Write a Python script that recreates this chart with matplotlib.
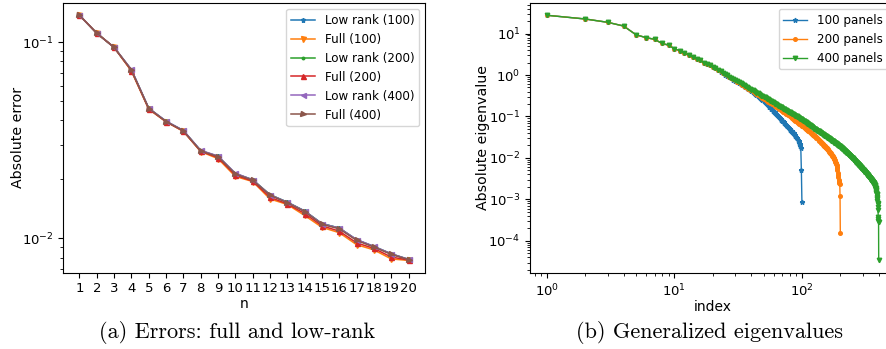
"""
Two-panel figure: (a) absolute error vs n for full / low-rank solves,
(b) absolute generalized eigenvalues for 100 / 200 / 400 panels.
Values are read off the reference picture.
"""

import matplotlib
matplotlib.use("Agg")
import matplotlib.pyplot as plt
import numpy as np

plt.rcParams["font.size"] = 9.5
plt.rcParams["axes.labelsize"] = 10
plt.rcParams["legend.fontsize"] = 8.6
plt.rcParams["axes.linewidth"] = 0.8

# ---------------------------------------------------------------------------
# (a) errors
# ---------------------------------------------------------------------------
N_VALUES = list(range(1, 21))

LOW_RANK_100 = [0.137, 0.111, 0.094, 0.0722, 0.0460, 0.0395, 0.0354, 0.0280, 0.0262, 0.0214,
                0.0199, 0.0167, 0.0153, 0.0138, 0.0119, 0.0113, 0.00985, 0.00910, 0.00835, 0.00782]
FULL_100 = [0.137, 0.111, 0.094, 0.0712, 0.0455, 0.0393, 0.0351, 0.0277, 0.0255, 0.0207,
            0.0195, 0.0159, 0.0149, 0.0131, 0.0114, 0.0107, 0.0093, 0.00875, 0.00787, 0.00773]
LOW_RANK_200 = [0.137, 0.111, 0.094, 0.0722, 0.0460, 0.0395, 0.0354, 0.0280, 0.0262, 0.0214,
                0.0199, 0.0167, 0.0153, 0.0138, 0.0119, 0.0113, 0.00985, 0.00910, 0.00835, 0.00782]
FULL_200 = [0.137, 0.111, 0.094, 0.0716, 0.0457, 0.0393, 0.0352, 0.0278, 0.0258, 0.0210,
            0.0196, 0.0162, 0.0150, 0.0134, 0.0116, 0.0109, 0.0095, 0.00890, 0.00805, 0.00776]
LOW_RANK_400 = [0.137, 0.111, 0.094, 0.0726, 0.0461, 0.0396, 0.0355, 0.0281, 0.0263, 0.0215,
                0.0199, 0.0167, 0.0153, 0.0138, 0.0119, 0.0113, 0.00988, 0.00912, 0.00836, 0.00783]
FULL_400 = [0.137, 0.111, 0.094, 0.0720, 0.0459, 0.0394, 0.0353, 0.0279, 0.0261, 0.0213,
            0.0198, 0.0166, 0.0152, 0.0137, 0.0118, 0.0112, 0.00978, 0.00905, 0.00830, 0.00780]

ERROR_SERIES = [
    ("Low rank (100)", LOW_RANK_100, "C0", "*"),
    ("Full (100)", FULL_100, "C1", "v"),
    ("Low rank (200)", LOW_RANK_200, "C2", "."),
    ("Full (200)", FULL_200, "C3", "^"),
    ("Low rank (400)", LOW_RANK_400, "C4", "<"),
    ("Full (400)", FULL_400, "C5", ">"),
]

# ---------------------------------------------------------------------------
# (b) eigenvalues, stored as log10|lambda|, index 1..N
# ---------------------------------------------------------------------------
EIG_HEAD_LOG10 = [1.44, 1.35, 1.27, 1.18, 0.97, 0.90, 0.86, 0.76, 0.72, 0.63,
                  0.59, 0.52, 0.48, 0.43, 0.38, 0.35, 0.30, 0.27, 0.23, 0.20]

EIG_100_TAIL_LOG10 = [
    0.16, 0.12, 0.08, 0.05, 0.01, -0.02, -0.05, -0.08, -0.11, -0.14,
    -0.16, -0.19, -0.22, -0.24, -0.27, -0.29, -0.32, -0.34, -0.36, -0.38,
    -0.41, -0.44, -0.46, -0.48, -0.51, -0.53, -0.56, -0.58, -0.60, -0.63,
    -0.66, -0.68, -0.71, -0.73, -0.76, -0.78, -0.81, -0.83, -0.86, -0.88,
    -0.90, -0.92, -0.95, -0.97, -0.99, -1.02, -1.04, -1.06, -1.08, -1.10,
    -1.12, -1.14, -1.16, -1.18, -1.20, -1.22, -1.24, -1.26, -1.28, -1.30,
    -1.32, -1.34, -1.36, -1.37, -1.39, -1.41, -1.43, -1.45, -1.47, -1.49,
    -1.51, -1.53, -1.56, -1.60, -1.63, -1.66, -1.72, -1.77, -2.30, -3.07,
]

EIG_200_TAIL_LOG10 = [
    0.16, 0.13, 0.09, 0.06, 0.02, -0.01, -0.04, -0.07, -0.10, -0.13,
    -0.16, -0.18, -0.21, -0.23, -0.25, -0.28, -0.30, -0.33, -0.35, -0.37,
    -0.39, -0.41, -0.43, -0.46, -0.47, -0.49, -0.51, -0.54, -0.55, -0.57,
    -0.58, -0.60, -0.62, -0.64, -0.65, -0.67, -0.68, -0.70, -0.71, -0.72,
    -0.74, -0.75, -0.76, -0.78, -0.80, -0.81, -0.82, -0.84, -0.85, -0.87,
    -0.88, -0.89, -0.90, -0.92, -0.93, -0.94, -0.95, -0.96, -0.97, -0.99,
    -1.00, -1.01, -1.03, -1.04, -1.05, -1.07, -1.08, -1.09, -1.10, -1.11,
    -1.12, -1.14, -1.15, -1.16, -1.17, -1.18, -1.19, -1.20, -1.21, -1.22,
    -1.23, -1.24, -1.25, -1.26, -1.27, -1.28, -1.29, -1.30, -1.31, -1.32,
    -1.33, -1.34, -1.35, -1.36, -1.37, -1.38, -1.39, -1.40, -1.41, -1.42,
    -1.43, -1.44, -1.44, -1.45, -1.46, -1.47, -1.48, -1.49, -1.50, -1.51,
    -1.52, -1.53, -1.54, -1.55, -1.56, -1.57, -1.58, -1.59, -1.60, -1.61,
    -1.62, -1.63, -1.64, -1.65, -1.66, -1.67, -1.68, -1.69, -1.70, -1.71,
    -1.71, -1.72, -1.73, -1.74, -1.75, -1.76, -1.77, -1.78, -1.79, -1.80,
    -1.81, -1.82, -1.83, -1.85, -1.86, -1.87, -1.88, -1.89, -1.90, -1.91,
    -1.93, -1.94, -1.95, -1.96, -1.97, -1.98, -1.99, -2.00, -2.02, -2.03,
    -2.05, -2.07, -2.09, -2.11, -2.13, -2.15, -2.18, -2.21, -2.25, -2.30,
    -2.36, -2.42, -2.47, -2.54, -2.56, -2.58, -2.60, -2.62, -2.92, -3.82,
]

EIG_400_TAIL_LOG10 = [
    0.16, 0.13, 0.09, 0.06, 0.02, -0.01, -0.04, -0.07, -0.09, -0.12,
    -0.15, -0.17, -0.20, -0.22, -0.24, -0.27, -0.29, -0.31, -0.33, -0.35,
    -0.37, -0.39, -0.41, -0.43, -0.44, -0.46, -0.48, -0.50, -0.51, -0.53,
    -0.54, -0.56, -0.57, -0.59, -0.60, -0.62, -0.63, -0.65, -0.66, -0.67,
    -0.69, -0.70, -0.71, -0.72, -0.74, -0.75, -0.76, -0.77, -0.78, -0.80,
    -0.81, -0.82, -0.83, -0.84, -0.85, -0.86, -0.87, -0.88, -0.89, -0.90,
    -0.91, -0.92, -0.93, -0.94, -0.95, -0.96, -0.97, -0.98, -0.99, -1.00,
    -1.00, -1.01, -1.02, -1.03, -1.04, -1.05, -1.06, -1.06, -1.07, -1.08,
    -1.09, -1.10, -1.11, -1.12, -1.13, -1.14, -1.14, -1.15, -1.16, -1.17,
    -1.18, -1.19, -1.20, -1.21, -1.21, -1.22, -1.23, -1.24, -1.25, -1.25,
    -1.26, -1.27, -1.28, -1.29, -1.29, -1.30, -1.31, -1.32, -1.32, -1.33,
    -1.34, -1.34, -1.35, -1.36, -1.36, -1.37, -1.38, -1.38, -1.39, -1.40,
    -1.40, -1.41, -1.42, -1.42, -1.43, -1.44, -1.44, -1.45, -1.45, -1.46,
    -1.47, -1.47, -1.48, -1.48, -1.49, -1.50, -1.50, -1.51, -1.51, -1.52,
    -1.52, -1.53, -1.54, -1.54, -1.55, -1.55, -1.56, -1.57, -1.57, -1.58,
    -1.58, -1.59, -1.59, -1.60, -1.60, -1.61, -1.62, -1.62, -1.63, -1.63,
    -1.64, -1.64, -1.65, -1.65, -1.66, -1.66, -1.67, -1.67, -1.68, -1.68,
    -1.69, -1.69, -1.70, -1.70, -1.71, -1.71, -1.72, -1.72, -1.73, -1.73,
    -1.74, -1.75, -1.75, -1.76, -1.76, -1.77, -1.78, -1.78, -1.79, -1.79,
    -1.80, -1.81, -1.81, -1.82, -1.82, -1.83, -1.84, -1.84, -1.85, -1.85,
    -1.86, -1.86, -1.87, -1.88, -1.88, -1.89, -1.89, -1.90, -1.90, -1.91,
    -1.91, -1.92, -1.93, -1.93, -1.94, -1.94, -1.95, -1.95, -1.96, -1.96,
    -1.97, -1.97, -1.98, -1.98, -1.99, -1.99, -2.00, -2.00, -2.01, -2.01,
    -2.02, -2.02, -2.03, -2.04, -2.04, -2.05, -2.05, -2.06, -2.07, -2.07,
    -2.08, -2.08, -2.09, -2.09, -2.10, -2.10, -2.11, -2.12, -2.12, -2.13,
    -2.13, -2.14, -2.14, -2.15, -2.15, -2.16, -2.16, -2.17, -2.18, -2.18,
    -2.19, -2.19, -2.20, -2.20, -2.21, -2.21, -2.22, -2.22, -2.23, -2.23,
    -2.24, -2.24, -2.25, -2.25, -2.26, -2.26, -2.27, -2.27, -2.28, -2.28,
    -2.29, -2.29, -2.30, -2.30, -2.31, -2.31, -2.32, -2.32, -2.33, -2.33,
    -2.33, -2.34, -2.34, -2.35, -2.35, -2.36, -2.36, -2.37, -2.37, -2.38,
    -2.39, -2.39, -2.40, -2.40, -2.41, -2.41, -2.42, -2.42, -2.43, -2.43,
    -2.44, -2.44, -2.45, -2.45, -2.46, -2.46, -2.47, -2.47, -2.48, -2.48,
    -2.49, -2.49, -2.50, -2.50, -2.51, -2.51, -2.52, -2.52, -2.53, -2.53,
    -2.54, -2.54, -2.55, -2.55, -2.56, -2.56, -2.57, -2.57, -2.58, -2.58,
    -2.59, -2.59, -2.60, -2.60, -2.61, -2.61, -2.62, -2.62, -2.63, -2.64,
    -2.65, -2.66, -2.67, -2.68, -2.69, -2.70, -2.72, -2.73, -2.75, -2.76,
    -2.78, -2.80, -2.82, -2.84, -2.86, -2.88, -2.90, -2.93, -2.96, -3.00,
    -3.04, -3.08, -3.12, -3.18, -3.25, -3.42, -3.46, -3.52, -3.55, -4.47,
]

EIG_SERIES = [
    ("100 panels", EIG_HEAD_LOG10 + EIG_100_TAIL_LOG10, "C0", "*", 3.4),
    ("200 panels", EIG_HEAD_LOG10 + EIG_200_TAIL_LOG10, "C1", "o", 2.6),
    ("400 panels", EIG_HEAD_LOG10 + EIG_400_TAIL_LOG10, "C2", "v", 3.2),
]

CAPTION_A = "(a) Errors: full and low-rank"
CAPTION_B = "(b) Generalized eigenvalues"


def plot_errors(ax):
    for label, values, color, marker in ERROR_SERIES:
        ax.plot(N_VALUES, values, color=color, marker=marker, markersize=3.6,
                linewidth=1.1, label=label)
    ax.set_yscale("log")
    ax.set_xticks(N_VALUES)
    ax.set_xlabel("n", labelpad=1)
    ax.set_ylabel("Absolute error", fontsize=10.2, labelpad=-2.5)
    ax.legend(loc="upper right", handlelength=2.0)


def plot_eigenvalues(ax):
    for label, log_values, color, marker, ms in EIG_SERIES:
        idx = np.arange(1, len(log_values) + 1)
        ax.plot(idx, 10.0 ** np.array(log_values), color=color, marker=marker,
                markersize=ms, linewidth=1.0, label=label)
    ax.set_xscale("log")
    ax.set_yscale("log")
    ax.set_xlabel("index", labelpad=1)
    ax.set_ylabel("Absolute eigenvalue", fontsize=10.2, labelpad=-1)
    # only the frame of the legend reaches the right edge, as in the original
    ax.legend(loc="upper right", handlelength=2.0, bbox_to_anchor=(0.995, 1.0))


fig = plt.figure(figsize=(8.86, 3.49), dpi=100)
ax_a = fig.add_axes([0.0711, 0.2186, 0.4086, 0.7728])
ax_b = fig.add_axes([0.5985, 0.2186, 0.4120, 0.7728])

plot_errors(ax_a)
plot_eigenvalues(ax_b)

fig.text(0.268, 0.046, CAPTION_A, ha="center", va="center", fontsize=16, family="cmr10")
fig.text(0.801, 0.046, CAPTION_B, ha="center", va="center", fontsize=16, family="cmr10")

fig.savefig("out.png", dpi=100)
plt.close(fig)
